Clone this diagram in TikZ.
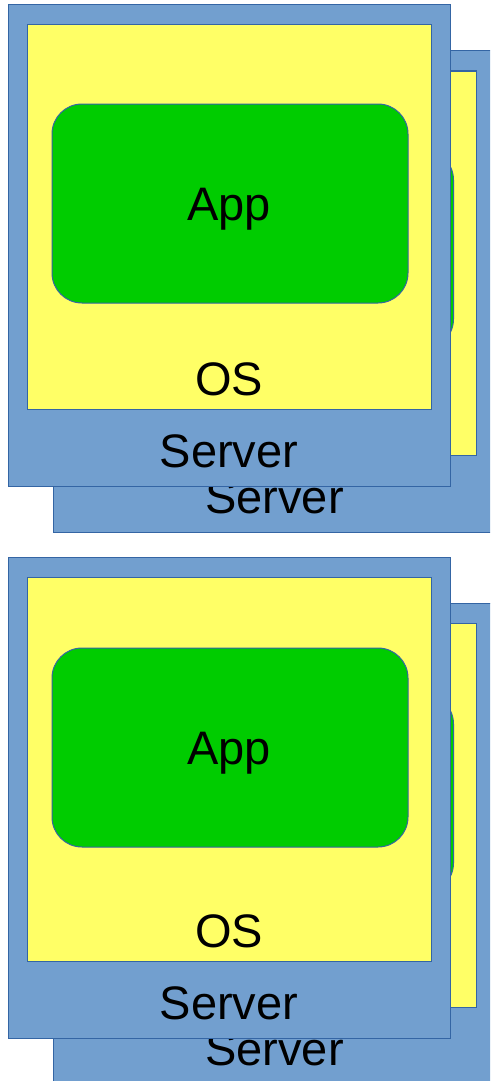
\documentclass[tikz,border=0pt]{standalone}
\usepackage{fontspec}
\setmainfont{Liberation Sans}
\definecolor{srvblue}{HTML}{729FCF}
\definecolor{osyellow}{HTML}{FFFF66}
\definecolor{appgreen}{HTML}{00CC00}
\definecolor{edgeblue}{HTML}{3465A4}
\tikzset{
  server/.style={draw=edgeblue,fill=srvblue,line width=1pt},
  osbox/.style={draw=edgeblue,fill=osyellow,line width=1pt},
  appbox/.style={draw=edgeblue,fill=appgreen,line width=1pt,rounded corners=30pt},
  boxtext/.style={anchor=base,inner sep=0pt,font=\fontsize{47}{56}\selectfont}
}
\begin{document}
\begin{tikzpicture}[x=1pt,y=-1pt]
\useasboundingbox (0,0) rectangle (490,1081);
\clip (0,0) rectangle (490,1081);

% two stacks, each a server behind a server
\foreach \s/\a/\n in {0/0/a,552/-8/b} {
  \foreach \dx/\dy/\m in {45.5/46/back,0/0/front} {
    \begin{scope}[shift={(\dx,\s+\dy)}]
      \draw[server] (8,5) rectangle (450,486);
      \draw[osbox] (27,25) rectangle (431,409);
      \draw[appbox] (52,104+\a) rectangle (408,303+\a);
      \node[boxtext] (app\n\m) at (229,220.7+\a) {App};
      \node[boxtext] (os\n\m) at (229,395.7) {OS};
      \node[boxtext] (srv\n\m) at (229,467.7) {Server};
    \end{scope}
  }
}
\end{tikzpicture}
\end{document}
